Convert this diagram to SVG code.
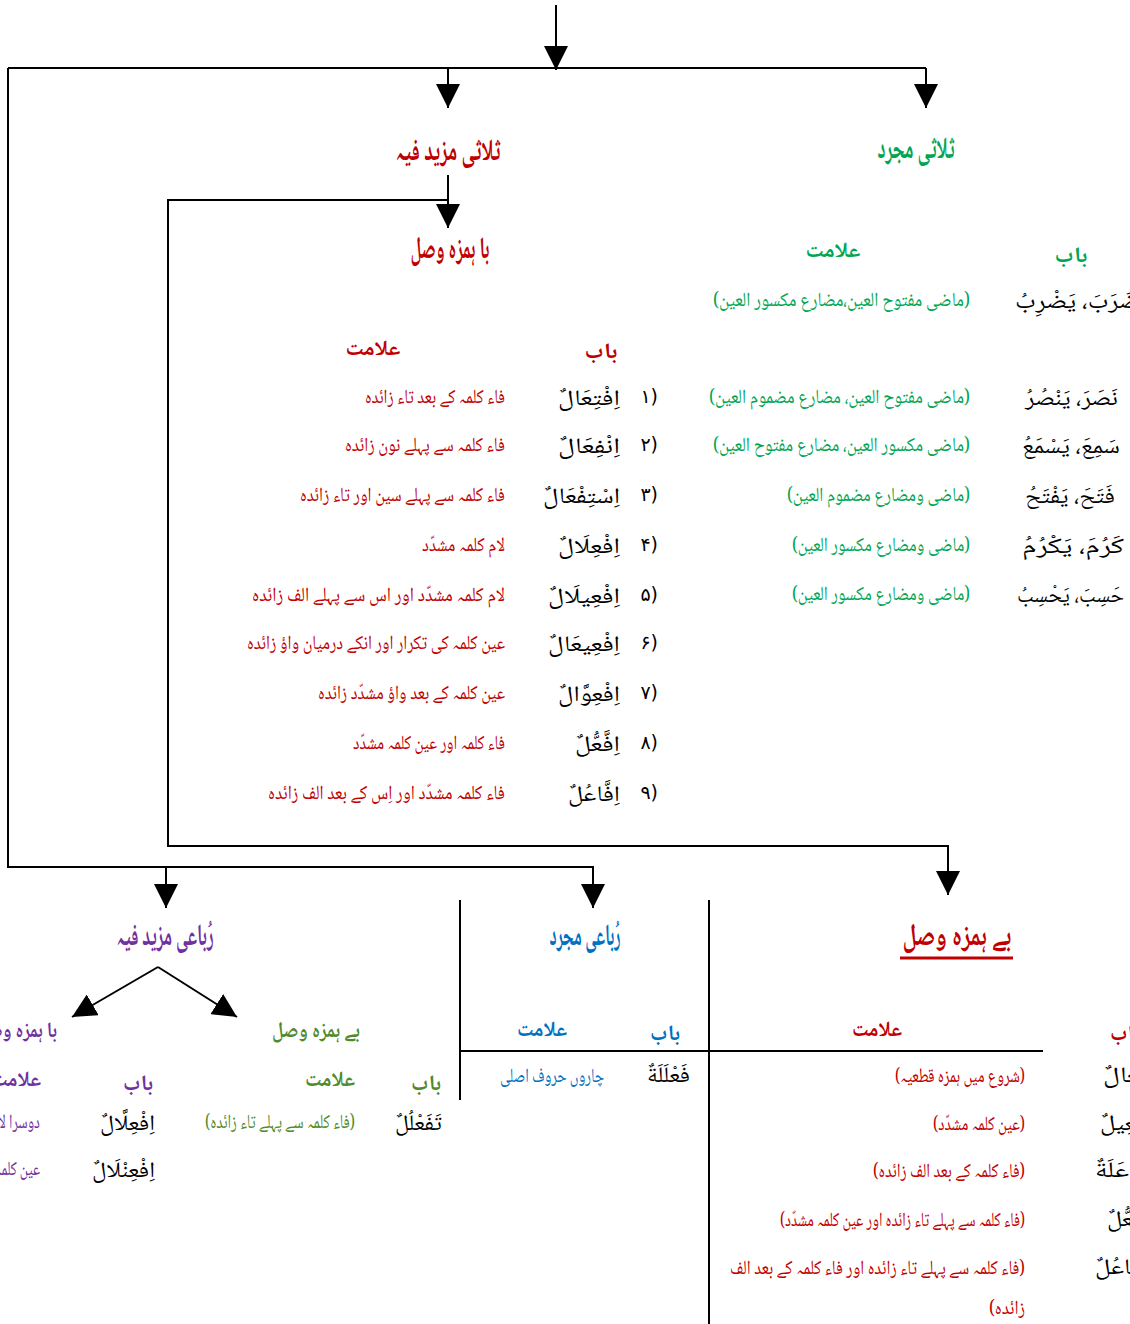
<svg xmlns="http://www.w3.org/2000/svg" width="1130" height="1324" viewBox="0 0 1130 1324">
<style>
.t{font-family:"Noto Naskh Arabic","Noto Sans Arabic","DejaVu Sans",sans-serif;direction:rtl}
.h{font-size:31px;font-weight:bold}
.m{font-size:22px;font-weight:bold}
.s{font-size:20px}
.k{font-size:22px;fill:#000}
.n{font-family:"DejaVu Sans",sans-serif;font-size:19px;fill:#000;direction:ltr}
.red{fill:#c00000}.grn{fill:#00a651}.pur{fill:#7030a0}.olv{fill:#4f8a2b}.blu{fill:#0070c0}
.ln{fill:none;stroke:#000;stroke-width:2}
</style>
<defs>
<marker id="ar" markerUnits="userSpaceOnUse" markerWidth="24" markerHeight="24" viewBox="0 0 24 24" refX="24" refY="12" orient="auto">
<path d="M0,0 L24,12 L0,24 z" fill="#000"/>
</marker>
</defs>
<g id="connectors">
<path class="ln" d="M556,5 V70" marker-end="url(#ar)"/>
<path class="ln" d="M8,68 H926"/>
<path class="ln" d="M448,68 V108" marker-end="url(#ar)"/>
<path class="ln" d="M926,68 V108" marker-end="url(#ar)"/>
<path class="ln" d="M8,68 V867 H593 V908" marker-end="url(#ar)"/>
<path class="ln" d="M166,867 V908" marker-end="url(#ar)"/>
<path class="ln" d="M448,175 V228" marker-end="url(#ar)"/>
<path class="ln" d="M448,200 H168 V846 H948 V895" marker-end="url(#ar)"/>
<path class="ln" d="M158,967 L72,1017" marker-end="url(#ar)"/>
<path class="ln" d="M158,967 L237,1017" marker-end="url(#ar)"/>
<path class="ln" d="M460,900 V1100"/>
<path class="ln" d="M709,900 V1324"/>
<path class="ln" d="M460,1051 H1043"/>
<path d="M900,958 H1013" stroke="#c00000" stroke-width="3"/>
</g>
<g id="thulathi-mazeed">
<text class="t h red" x="448" y="160" text-anchor="middle" textLength="105" lengthAdjust="spacingAndGlyphs">ثلاثی مزید فیہ</text>
</g>
<g id="thulathi-mujarrad">
<text class="t h grn" x="916" y="158" text-anchor="middle" textLength="77" lengthAdjust="spacingAndGlyphs">ثلاثی مجرد</text>
<text class="t m grn" x="833" y="257" text-anchor="middle" textLength="55" lengthAdjust="spacingAndGlyphs">علامت</text>
<text class="t m grn" x="1071" y="262" text-anchor="middle" textLength="33" lengthAdjust="spacingAndGlyphs">باب</text>
<text class="t s grn" x="970" y="306" textLength="257" lengthAdjust="spacingAndGlyphs">(ماضی مفتوح العین،مضارع مکسور العین)</text>
<text class="t s grn" x="970" y="403" textLength="261" lengthAdjust="spacingAndGlyphs">(ماضی مفتوح العین، مضارع مضموم العین)</text>
<text class="t s grn" x="970" y="451" textLength="257" lengthAdjust="spacingAndGlyphs">(ماضی مکسور العین، مضارع مفتوح العین)</text>
<text class="t s grn" x="970" y="501" textLength="183" lengthAdjust="spacingAndGlyphs">(ماضی ومضارع مضموم العین)</text>
<text class="t s grn" x="970" y="551" textLength="178" lengthAdjust="spacingAndGlyphs">(ماضی ومضارع مکسور العین)</text>
<text class="t s grn" x="970" y="600" textLength="178" lengthAdjust="spacingAndGlyphs">(ماضی ومضارع مکسور العین)</text>
<text class="t k" x="1015" y="308" text-anchor="end" textLength="125" lengthAdjust="spacingAndGlyphs">ضَرَبَ، يَضْرِبُ</text>
<text class="t k" x="1118" y="405" textLength="93" lengthAdjust="spacingAndGlyphs">نَصَرَ، يَنْصُرُ</text>
<text class="t k" x="1120" y="453" textLength="98" lengthAdjust="spacingAndGlyphs">سَمِعَ، يَسْمَعُ</text>
<text class="t k" x="1115" y="503" textLength="90" lengthAdjust="spacingAndGlyphs">فَتَحَ، يَفْتَحُ</text>
<text class="t k" x="1124" y="553" textLength="102" lengthAdjust="spacingAndGlyphs">كَرُمَ، يَكْرُمُ</text>
<text class="t k" x="1124" y="602" textLength="107" lengthAdjust="spacingAndGlyphs">حَسِبَ، يَحْسِبُ</text>
</g>
<g id="ba-hamza-wasl">
<text class="t h red" x="450" y="258" text-anchor="middle" textLength="79" lengthAdjust="spacingAndGlyphs">با ہمزہ وصل</text>
<text class="t m red" x="373" y="355" text-anchor="middle" textLength="55" lengthAdjust="spacingAndGlyphs">علامت</text>
<text class="t m red" x="601" y="358" text-anchor="middle" textLength="33" lengthAdjust="spacingAndGlyphs">باب</text>
<text class="t s red" x="505" y="403" textLength="140" lengthAdjust="spacingAndGlyphs">فاء کلمہ کے بعد تاء زائدہ</text>
<text class="t s red" x="505" y="451" textLength="160" lengthAdjust="spacingAndGlyphs">فاء کلمہ سے پہلے نون زائدہ</text>
<text class="t s red" x="505" y="501" textLength="205" lengthAdjust="spacingAndGlyphs">فاء کلمہ سے پہلے سین اور تاء زائدہ</text>
<text class="t s red" x="505" y="551" textLength="83" lengthAdjust="spacingAndGlyphs">لام کلمہ مشدّد</text>
<text class="t s red" x="505" y="601" textLength="253" lengthAdjust="spacingAndGlyphs">لام کلمہ مشدّد اور اس سے پہلے الف زائدہ</text>
<text class="t s red" x="505" y="649" textLength="258" lengthAdjust="spacingAndGlyphs">عین کلمہ کی تکرار اور انکے درمیان واؤ زائدہ</text>
<text class="t s red" x="505" y="699" textLength="187" lengthAdjust="spacingAndGlyphs">عین کلمہ کے بعد واؤ مشدّد زائدہ</text>
<text class="t s red" x="505" y="749" textLength="152" lengthAdjust="spacingAndGlyphs">فاء کلمہ اور عین کلمہ مشدّد</text>
<text class="t s red" x="505" y="799" textLength="237" lengthAdjust="spacingAndGlyphs">فاء کلمہ مشدّد اور اِس کے بعد الف زائدہ</text>
<text class="t k" x="620" y="405" textLength="62" lengthAdjust="spacingAndGlyphs">اِفْتِعَالٌ</text>
<text class="t k" x="620" y="453" textLength="62" lengthAdjust="spacingAndGlyphs">اِنْفِعَالٌ</text>
<text class="t k" x="620" y="503" textLength="77" lengthAdjust="spacingAndGlyphs">اِسْتِفْعَالٌ</text>
<text class="t k" x="620" y="553" textLength="62" lengthAdjust="spacingAndGlyphs">اِفْعِلَالٌ</text>
<text class="t k" x="620" y="603" textLength="72" lengthAdjust="spacingAndGlyphs">اِفْعِيلَالٌ</text>
<text class="t k" x="620" y="651" textLength="72" lengthAdjust="spacingAndGlyphs">اِفْعِيعَالٌ</text>
<text class="t k" x="620" y="701" textLength="62" lengthAdjust="spacingAndGlyphs">اِفْعِوَّالٌ</text>
<text class="t k" x="620" y="751" textLength="45" lengthAdjust="spacingAndGlyphs">اِفَّعُّلٌ</text>
<text class="t k" x="620" y="801" textLength="52" lengthAdjust="spacingAndGlyphs">اِفَّاعُلٌ</text>
<text class="n" x="658" y="403" text-anchor="end">۱)</text>
<text class="n" x="658" y="451" text-anchor="end">۲)</text>
<text class="n" x="658" y="501" text-anchor="end">۳)</text>
<text class="n" x="658" y="551" text-anchor="end">۴)</text>
<text class="n" x="658" y="601" text-anchor="end">۵)</text>
<text class="n" x="658" y="649" text-anchor="end">۶)</text>
<text class="n" x="658" y="699" text-anchor="end">۷)</text>
<text class="n" x="658" y="749" text-anchor="end">۸)</text>
<text class="n" x="658" y="799" text-anchor="end">۹)</text>
</g>
<g id="rubai-mazeed">
<text class="t h pur" x="165" y="945" text-anchor="middle" textLength="97" lengthAdjust="spacingAndGlyphs">رُباعی مزید فیہ</text>
<text class="t m pur" x="57" y="1037" textLength="80" lengthAdjust="spacingAndGlyphs">با ہمزہ وصل</text>
<text class="t m pur" x="41" y="1086" textLength="50" lengthAdjust="spacingAndGlyphs">علامت</text>
<text class="t m pur" x="138" y="1090" text-anchor="middle" textLength="30" lengthAdjust="spacingAndGlyphs">باب</text>
<text class="t s pur" x="40" y="1128" textLength="80" lengthAdjust="spacingAndGlyphs">دوسرا لام مشدّد</text>
<text class="t s pur" x="40" y="1175" textLength="130" lengthAdjust="spacingAndGlyphs">عین کلمہ کے بعد نون زائدہ</text>
<text class="t k" x="155" y="1130" textLength="55" lengthAdjust="spacingAndGlyphs">اِفْعِلَّالٌ</text>
<text class="t k" x="155" y="1177" textLength="63" lengthAdjust="spacingAndGlyphs">اِفْعِنْلَالٌ</text>
</g>
<g id="rubai-mazeed-be-hamza">
<text class="t m olv" x="316" y="1037" text-anchor="middle" textLength="88" lengthAdjust="spacingAndGlyphs">بے ہمزہ وصل</text>
<text class="t m olv" x="330" y="1086" text-anchor="middle" textLength="50" lengthAdjust="spacingAndGlyphs">علامت</text>
<text class="t m olv" x="426" y="1090" text-anchor="middle" textLength="30" lengthAdjust="spacingAndGlyphs">باب</text>
<text class="t s olv" x="355" y="1128" textLength="150" lengthAdjust="spacingAndGlyphs">(فاء کلمہ سے پہلے تاء زائدہ)</text>
<text class="t k" x="442" y="1130" textLength="47" lengthAdjust="spacingAndGlyphs">تَفَعْلُلٌ</text>
</g>
<g id="rubai-mujarrad">
<text class="t h blu" x="585" y="945" text-anchor="middle" textLength="71" lengthAdjust="spacingAndGlyphs">رُباعی مجرد</text>
<text class="t m blu" x="542" y="1036" text-anchor="middle" textLength="50" lengthAdjust="spacingAndGlyphs">علامت</text>
<text class="t m blu" x="665" y="1040" text-anchor="middle" textLength="30" lengthAdjust="spacingAndGlyphs">باب</text>
<text class="t s blu" x="604" y="1082" textLength="104" lengthAdjust="spacingAndGlyphs">چاروں حروف اصلی</text>
<text class="t k" x="690" y="1082" textLength="43" lengthAdjust="spacingAndGlyphs">فَعْلَلَةٌ</text>
</g>
<g id="be-hamza-wasl">
<text class="t h red" x="957" y="945" text-anchor="middle" textLength="109" lengthAdjust="spacingAndGlyphs">بے ہمزہ وصل</text>
<text class="t m red" x="877" y="1036" text-anchor="middle" textLength="50" lengthAdjust="spacingAndGlyphs">علامت</text>
<text class="t m red" x="1125" y="1040" text-anchor="middle" textLength="30" lengthAdjust="spacingAndGlyphs">باب</text>
<text class="t s red" x="1025" y="1082" textLength="130" lengthAdjust="spacingAndGlyphs">(شروع میں ہمزہ قطعیہ)</text>
<text class="t s red" x="1025" y="1130" textLength="92" lengthAdjust="spacingAndGlyphs">(عین کلمہ مشدّد)</text>
<text class="t s red" x="1025" y="1177" textLength="152" lengthAdjust="spacingAndGlyphs">(فاء کلمہ کے بعد الف زائدہ)</text>
<text class="t s red" x="1025" y="1226" textLength="245" lengthAdjust="spacingAndGlyphs">(فاء کلمہ سے پہلے تاء زائدہ اور عین کلمہ مشدّد)</text>
<text class="t s red" x="1025" y="1274" textLength="295" lengthAdjust="spacingAndGlyphs">(فاء کلمہ سے پہلے تاء زائدہ اور فاء کلمہ کے بعد الف</text>
<text class="t s red" x="1025" y="1314" textLength="36" lengthAdjust="spacingAndGlyphs">زائدہ)</text>
<text class="t k" x="1103" y="1082" text-anchor="end" textLength="55" lengthAdjust="spacingAndGlyphs">إِفْعَالٌ</text>
<text class="t k" x="1100" y="1130" text-anchor="end" textLength="55" lengthAdjust="spacingAndGlyphs">تَفْعِيلٌ</text>
<text class="t k" x="1095" y="1177" text-anchor="end" textLength="65" lengthAdjust="spacingAndGlyphs">مُفَاعَلَةٌ</text>
<text class="t k" x="1107" y="1226" text-anchor="end" textLength="45" lengthAdjust="spacingAndGlyphs">تَفَعُّلٌ</text>
<text class="t k" x="1095" y="1274" text-anchor="end" textLength="55" lengthAdjust="spacingAndGlyphs">تَفَاعُلٌ</text>
</g>
</svg>
